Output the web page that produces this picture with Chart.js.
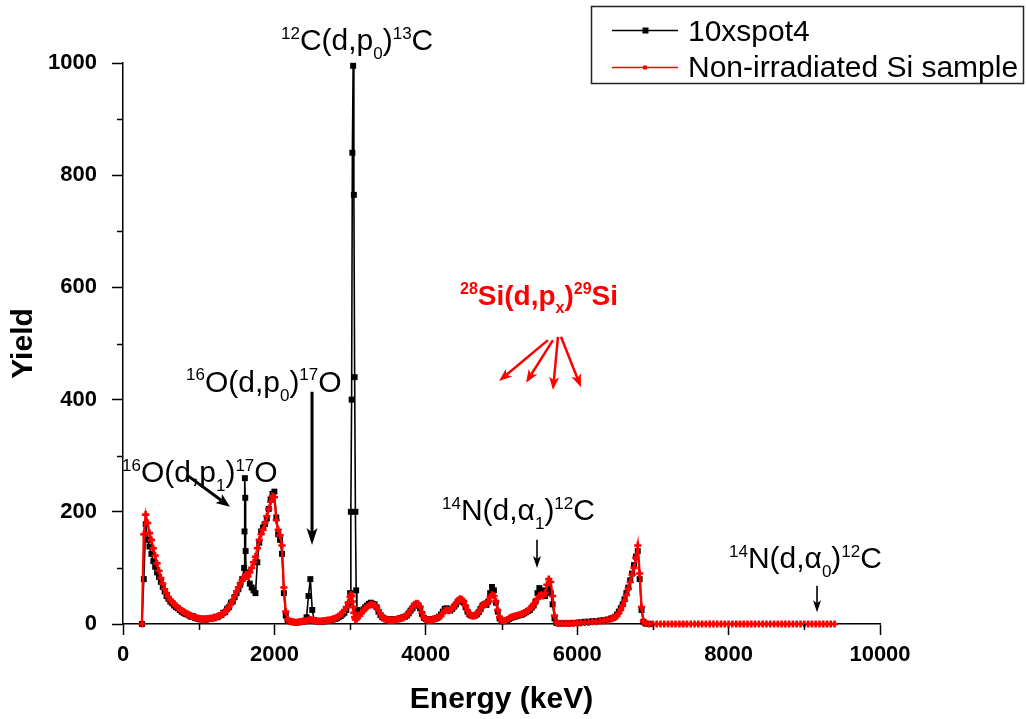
<!DOCTYPE html>
<html><head><meta charset="utf-8">
<script src="https://cdn.jsdelivr.net/npm/chart.js@4.4.0/dist/chart.umd.min.js"></script>
<style>html,body{margin:0;padding:0;background:#fff;}canvas{display:block;}</style>
</head><body>
<canvas id="c" width="1026" height="719"></canvas>
<script>
// ---------- DATA ----------
const energyKeV = [
  250,275,300,325,350,375,400,425,450,475,
  500,525,550,575,600,625,650,675,700,725,
  750,775,800,825,850,875,900,925,950,975,
  1000,1025,1050,1075,1100,1125,1150,1175,1200,1225,
  1250,1275,1300,1325,1350,1375,1400,1425,1450,1475,
  1500,1525,1550,1575,1600,1605,1610,1615,1620,1625,
  1650,1675,1700,1725,1750,1775,1800,1825,1850,1875,
  1900,1925,1950,1975,2000,2025,2050,2075,2100,2125,
  2150,2175,2200,2225,2250,2275,2300,2325,2350,2375,
  2400,2425,2450,2475,2500,2525,2550,2575,2600,2625,
  2650,2675,2700,2725,2750,2775,2800,2825,2850,2875,
  2900,2925,2950,2975,3000,3010,3020,3030,3040,3050,
  3060,3070,3080,3090,3100,3125,3150,3175,3200,3225,
  3250,3275,3300,3325,3350,3375,3400,3425,3450,3475,
  3500,3525,3550,3575,3600,3625,3650,3675,3700,3725,
  3750,3775,3800,3825,3850,3875,3900,3925,3950,3975,
  4000,4025,4050,4075,4100,4125,4150,4175,4200,4225,
  4250,4275,4300,4325,4350,4375,4400,4425,4450,4475,
  4500,4525,4550,4575,4600,4625,4650,4675,4700,4725,
  4750,4775,4800,4825,4850,4875,4900,4925,4950,4975,
  5000,5025,5050,5075,5100,5125,5150,5175,5200,5225,
  5250,5275,5300,5325,5350,5375,5400,5425,5450,5475,
  5500,5525,5550,5575,5600,5625,5650,5675,5700,5725,
  5750,5800,5850,5900,5950,6000,6050,6100,6150,6200,
  6250,6300,6350,6400,6450,6475,6500,6525,6550,6575,
  6600,6625,6650,6675,6700,6725,6750,6775,6800,6825,
  6850,6875,6900,6950,7000,7050,7100,7150,7200,7250,
  7300,7350,7400,7450,7500,7550,7600,7650,7700,7750,
  7800,7850,7900,7950,8000,8050,8100,8150,8200,8250,
  8300,8350,8400,8450,8500,8550,8600,8650,8700,8750,
  8800,8850,8900,8950,9000,9050,9100,9150,9200,9250,
  9300,9350,9400
];

// 10xspot4 (black) – measured up to 6950 keV
const yieldSpot4 = [
  0,80,178,150,138,125,112,102,92,84,
  75,66,58,50,45,40,37,33,30,28,
  25,22,20,18,17,15,13,14,11,10,
  9,8,10,7,8,10,9,11,10,13,
  12,15,16,20,21,27,30,38,40,48,
  55,62,70,80,100,165,260,225,130,92,
  88,72,65,60,55,110,145,165,172,178,
  188,205,222,232,236,190,160,150,125,55,
  15,6,5,4,3,3,3,3,4,4,
  5,12,50,80,25,7,5,4,4,4,
  5,5,6,6,7,8,9,10,12,14,
  17,20,25,35,55,200,400,840,995,765,
  440,200,60,25,15,18,22,26,30,33,
  36,38,36,35,30,22,16,12,10,9,
  8,8,8,9,9,9,10,11,12,13,
  15,19,24,28,33,34,33,28,18,11,
  9,8,8,8,9,10,11,13,17,22,
  27,28,25,24,27,31,35,40,43,42,
  38,30,22,17,15,14,15,17,21,27,
  33,35,34,40,55,66,60,38,22,10,
  5,5,6,7,9,11,12,13,14,15,
  16,17,19,21,23,25,29,33,40,55,
  64,60,52,50,60,65,55,35,10,2,
  1,1,1,1,2,2,3,4,4,5,
  5,6,7,8,10,11,13,17,22,28,
  35,44,55,65,78,90,105,120,130,80,
  25,4,1,0
];

// Non-irradiated Si sample (red)
const yieldNonIrradiated = [
  0,160,195,180,162,150,135,122,108,95,
  82,72,62,55,48,43,39,36,32,29,
  27,24,22,20,18,16,15,13,12,11,
  10,9,8,8,9,9,10,10,11,12,
  13,15,17,19,22,26,31,36,42,50,
  58,65,72,78,82,83,84,85,86,88,
  85,92,100,110,120,135,150,160,168,180,
  192,205,218,228,226,185,168,158,140,65,
  22,8,5,4,4,3,3,4,4,5,
  5,6,7,8,7,6,5,5,5,5,
  6,6,7,7,8,9,10,12,14,17,
  20,25,30,38,48,52,50,40,30,20,
  12,8,8,10,12,15,20,24,28,30,
  33,35,34,33,30,24,18,12,9,8,
  7,7,7,7,8,8,9,10,11,13,
  16,20,25,30,35,37,36,30,20,12,
  8,7,7,7,8,9,10,12,15,20,
  24,25,24,25,28,32,37,42,45,44,
  40,32,24,18,15,14,15,18,22,28,
  34,36,35,40,48,52,50,40,25,12,
  6,5,6,8,10,12,13,14,15,16,
  17,18,20,22,24,27,30,35,40,45,
  50,52,50,55,70,80,75,50,15,3,
  1,1,1,1,1,2,2,3,3,4,
  4,5,6,7,9,11,12,15,20,26,
  33,42,52,63,75,88,100,118,140,90,
  30,5,1,0,0,0,0,0,0,0,
  0,0,0,0,0,0,0,0,0,0,
  0,0,0,0,0,0,0,0,0,0,
  0,0,0,0,0,0,0,0,0,0,
  0,0,0,0,0,0,0,0,0,0,
  0,0,0
];

const seriesNames = ['10xspot4', 'Non-irradiated Si sample'];
const xTickLabels = ['0', '2000', '4000', '6000', '8000', '10000'];
const yTickLabels = ['0', '200', '400', '600', '800', '1000'];

// Reaction labels: [text, kind] parts; anchor (left, baseline) in data units
const reactionLabels = [
  { e: 2087, y: 1023, color: '#000', bold: false, size: 30,
    parts: [['12','sup'],['C'],['(d,p'],['0','sub'],[')'],['13','sup'],['C']] },
  { e: 832, y: 414, color: '#000', bold: false, size: 30,
    parts: [['16','sup'],['O(d,p'],['0','sub'],[')'],['17','sup'],['O']] },
  { e: -13, y: 253, color: '#000', bold: false, size: 30,
    parts: [['16','sup'],['O(d,p'],['1','sub'],[')'],['17','sup'],['O']] },
  { e: 4214, y: 185, color: '#000', bold: false, size: 30,
    parts: [['14','sup'],['N(d,\u03B1'],['1','sub'],[')'],['12','sup'],['C']] },
  { e: 8005, y: 100, color: '#000', bold: false, size: 30,
    parts: [['14','sup'],['N(d,\u03B1'],['0','sub'],[')'],['12','sup'],['C']] },
  { e: 4452, y: 569, color: '#ff0000', bold: true, size: 28,
    parts: [['28','sup'],['Si(d,p'],['x','sub'],[')'],['29','sup'],['Si']] }
];
// Arrows: from (e1,y1) to (e2,y2) in data units
const reactionArrows = [
  { e1: 859, y1: 264, e2: 1413, y2: 209, color: '#000', w: 3, hl: 14, hw: 11 },
  { e1: 2497, y1: 414, e2: 2497, y2: 141, color: '#000', w: 3, hl: 17, hw: 11 },
  { e1: 5469, y1: 150, e2: 5469, y2: 100, color: '#000', w: 1.6, hl: 12, hw: 8 },
  { e1: 9168, y1: 68, e2: 9168, y2: 21, color: '#000', w: 1.6, hl: 12, hw: 8 },
  { e1: 5614, y1: 506, e2: 4967, y2: 433, color: '#ff0000', w: 2.5, hl: 13, hw: 10 },
  { e1: 5680, y1: 506, e2: 5324, y2: 430, color: '#ff0000', w: 2.5, hl: 13, hw: 10 },
  { e1: 5746, y1: 512, e2: 5680, y2: 417, color: '#ff0000', w: 2.5, hl: 13, hw: 10 },
  { e1: 5786, y1: 512, e2: 6050, y2: 422, color: '#ff0000', w: 2.5, hl: 13, hw: 10 }
];

// ---------- RENDERING ----------
const FONT = "'Liberation Sans', Arial, Helvetica, sans-serif";

const blackPts = yieldSpot4.map((v, i) => ({ x: energyKeV[i], y: v }));
const redPts = yieldNonIrradiated.map((v, i) => ({ x: energyKeV[i], y: v }));

function drawArrow(ctx, x1, y1, x2, y2, color, lw, hl, hw) {
  const a = Math.atan2(y2 - y1, x2 - x1), c = Math.cos(a), s = Math.sin(a);
  const bx = x2 - hl * c, by = y2 - hl * s;
  const nx = x2 - hl * 0.75 * c, ny = y2 - hl * 0.75 * s;
  ctx.save();
  ctx.strokeStyle = color; ctx.lineWidth = lw; ctx.lineCap = 'butt';
  ctx.beginPath(); ctx.moveTo(x1, y1); ctx.lineTo(nx, ny); ctx.stroke();
  ctx.fillStyle = color;
  ctx.beginPath();
  ctx.moveTo(x2, y2);
  ctx.lineTo(bx - s * hw / 2, by + c * hw / 2);
  ctx.lineTo(nx, ny);
  ctx.lineTo(bx + s * hw / 2, by - c * hw / 2);
  ctx.closePath(); ctx.fill();
  ctx.restore();
}

function drawRich(ctx, parts, x, y, o) {
  let cx = x;
  ctx.save();
  ctx.fillStyle = o.color; ctx.textBaseline = 'alphabetic'; ctx.textAlign = 'left';
  for (const [t, k] of parts) {
    const size = k ? Math.round(o.size * 0.58) : o.size;
    ctx.font = (o.bold ? 'bold ' : '') + size + 'px ' + FONT;
    const dy = k === 'sup' ? -o.size * 0.38 : (k === 'sub' ? o.size * 0.3 : 0);
    ctx.fillText(t, cx, y + dy);
    cx += ctx.measureText(t).width;
  }
  ctx.restore();
}

const overlayPlugin = {
  id: 'overlay',
  afterDraw(chart) {
    const ctx = chart.ctx, xs = chart.scales.x, ys = chart.scales.y;
    // minor ticks (shorter)
    ctx.save();
    ctx.strokeStyle = '#000'; ctx.lineWidth = 1.5;
    for (let v = 1000; v < 10000; v += 2000) {
      const px = Math.round(xs.getPixelForValue(v)) + 0.5;
      ctx.beginPath(); ctx.moveTo(px, ys.bottom); ctx.lineTo(px, ys.bottom + 6); ctx.stroke();
    }
    for (let v = 100; v < 1000; v += 200) {
      const py = Math.round(ys.getPixelForValue(v)) + 0.5;
      ctx.beginPath(); ctx.moveTo(xs.left, py); ctx.lineTo(xs.left - 6, py); ctx.stroke();
    }
    ctx.restore();
    // reaction labels and arrows
    for (const a of reactionArrows) {
      drawArrow(ctx, xs.getPixelForValue(a.e1), ys.getPixelForValue(a.y1),
        xs.getPixelForValue(a.e2), ys.getPixelForValue(a.y2), a.color, a.w, a.hl, a.hw);
    }
    for (const l of reactionLabels) {
      drawRich(ctx, l.parts, xs.getPixelForValue(l.e), ys.getPixelForValue(l.y), l);
    }
    // legend box
    ctx.save();
    ctx.fillStyle = '#fff';
    ctx.fillRect(591, 6, 433, 77);
    ctx.strokeStyle = '#222'; ctx.lineWidth = 1.5;
    ctx.strokeRect(591.5, 6.5, 432, 77);
    ctx.lineWidth = 1.3;
    ctx.strokeStyle = '#000';
    ctx.beginPath(); ctx.moveTo(612, 30.5); ctx.lineTo(678, 30.5); ctx.stroke();
    ctx.fillStyle = '#000'; ctx.fillRect(642.5, 27.5, 6, 6);
    ctx.strokeStyle = '#ff0000'; ctx.lineWidth = 1.5;
    ctx.beginPath(); ctx.moveTo(612, 67.5); ctx.lineTo(678, 67.5); ctx.stroke();
    ctx.fillStyle = '#ff0000'; ctx.fillRect(643, 65.5, 4, 4);
    ctx.fillStyle = '#000';
    ctx.font = '30px ' + FONT; ctx.textBaseline = 'alphabetic'; ctx.textAlign = 'left';
    ctx.fillText(seriesNames[0], 688, 41);
    ctx.fillText(seriesNames[1], 688, 77);
    ctx.restore();
  }
};

const tickFont = { family: FONT, size: 22, weight: 'bold' };
const titleFont = { family: FONT, size: 30, weight: 'bold' };

new Chart(document.getElementById('c'), {
  type: 'line',
  data: {
    datasets: [
      { label: seriesNames[0], data: blackPts, order: 1,
        borderColor: '#000', backgroundColor: '#000', borderWidth: 1.6,
        pointStyle: 'rect', pointRadius: 4.2, pointBorderWidth: 0,
        pointBackgroundColor: '#000', tension: 0, clip: false, fill: false },
      { label: seriesNames[1], data: redPts, order: 0,
        borderColor: '#ff0000', backgroundColor: '#ff0000', borderWidth: 2.4,
        pointStyle: 'cross', pointRadius: 3.6, pointBorderWidth: 2.6,
        pointBorderColor: '#ff0000', tension: 0, clip: false, fill: false }
    ]
  },
  options: {
    responsive: false, animation: false, devicePixelRatio: 1,
    layout: { padding: { left: 0, top: 63, right: 146, bottom: 0 } },
    plugins: { legend: { display: false }, tooltip: { enabled: false } },
    events: [],
    scales: {
      x: {
        type: 'linear', min: 0, max: 10000,
        afterFit: s => { s.height = 95; },
        ticks: { stepSize: 1000, autoSkip: false, maxRotation: 0, color: '#000', font: tickFont, padding: 7,
          callback: v => (v % 2000 === 0 ? xTickLabels[v / 2000] : '') },
        grid: { drawOnChartArea: false, drawTicks: true, tickLength: 11, tickWidth: 1.5,
          tickColor: c => (c.tick && c.tick.value % 2000 === 0 ? '#000' : 'rgba(0,0,0,0)') },
        border: { display: true, color: '#000', width: 1.5 },
        title: { display: true, text: 'Energy (keV)', color: '#000', font: titleFont, padding: { top: 0, bottom: 1 } }
      },
      y: {
        type: 'linear', min: 0, max: 1000,
        afterFit: s => { s.width = 123; },
        ticks: { stepSize: 100, autoSkip: false, color: '#000', font: tickFont, padding: 15,
          callback: v => (v % 200 === 0 ? yTickLabels[v / 200] : '') },
        grid: { drawOnChartArea: false, drawTicks: true, tickLength: 11, tickWidth: 1.5,
          tickColor: c => (c.tick && c.tick.value % 200 === 0 ? '#000' : 'rgba(0,0,0,0)') },
        border: { display: true, color: '#000', width: 1.5 },
        title: { display: true, text: 'Yield', color: '#000', font: titleFont, padding: { top: 6, bottom: 0 } }
      }
    }
  },
  plugins: [overlayPlugin]
});
</script>
</body></html>
